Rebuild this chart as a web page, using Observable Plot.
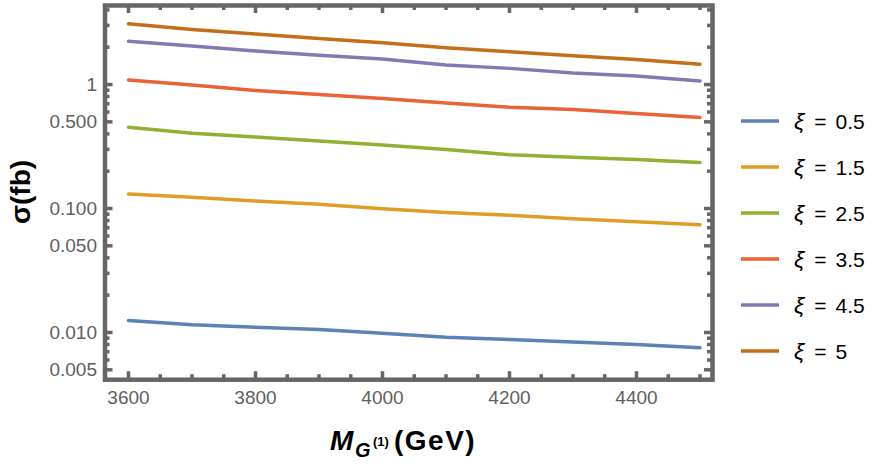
<!DOCTYPE html>
<html>
<head>
<meta charset="utf-8">
<script src="https://cdn.jsdelivr.net/npm/d3@7"></script>
<script src="https://cdn.jsdelivr.net/npm/@observablehq/plot@0.6"></script>
<style>
  html, body { margin: 0; padding: 0; background: #fff; }
  #chart { width: 886px; height: 474px; }
</style>
</head>
<body>
<div id="chart"></div>
<script>
// ---- data ----
const mass = [3600, 3700, 3800, 3900, 4000, 4100, 4200, 4300, 4400, 4500];
const xiValues = ["0.5", "1.5", "2.5", "3.5", "4.5", "5"];
const xiLabels = ["ξ = 0.5", "ξ = 1.5", "ξ = 2.5", "ξ = 3.5", "ξ = 4.5", "ξ = 5"];
const sigmaXi05 = [0.0125, 0.01153, 0.01104, 0.01057, 0.00987, 0.00917, 0.00879, 0.00836, 0.0080, 0.00753];
const sigmaXi15 = [0.131, 0.123, 0.115, 0.108, 0.0995, 0.0929, 0.0883, 0.0826, 0.0781, 0.0738];
const sigmaXi25 = [0.453, 0.405, 0.377, 0.350, 0.326, 0.299, 0.271, 0.259, 0.248, 0.235];
const sigmaXi35 = [1.09, 0.99, 0.895, 0.83, 0.771, 0.711, 0.656, 0.629, 0.584, 0.542];
const sigmaXi45 = [2.23, 2.05, 1.86, 1.72, 1.61, 1.44, 1.35, 1.24, 1.17, 1.07];
const sigmaXi5  = [3.09, 2.78, 2.56, 2.35, 2.17, 1.98, 1.84, 1.71, 1.59, 1.46];
const seriesColors = ["#5E81B5", "#E19C24", "#8FB032", "#EB6235", "#8778B3", "#C56E1A"];

const xMajorTicks = [3600, 3800, 4000, 4200, 4400];
const xMinorTicks = [3650, 3700, 3750, 3850, 3900, 3950, 4050, 4100, 4150, 4250, 4300, 4350, 4450, 4500];
const yMajorTicks = [0.005, 0.01, 0.05, 0.1, 0.5, 1];
const yTickLabels = ["0.005", "0.010", "0.050", "0.100", "0.500", "1"];
const yMinorTicks = [0.006, 0.007, 0.008, 0.009, 0.02, 0.03, 0.04, 0.06, 0.07, 0.08, 0.09,
                     0.2, 0.3, 0.4, 0.6, 0.7, 0.8, 0.9, 2, 3, 4];

// ---- build table ----
const allSeries = [sigmaXi05, sigmaXi15, sigmaXi25, sigmaXi35, sigmaXi45, sigmaXi5];
const rows = [];
allSeries.forEach((vals, k) => vals.forEach((v, i) => rows.push({m: mass[i], s: v, xi: xiLabels[k]})));
const yTickRows = yMajorTicks.map((v, i) => ({v, label: yTickLabels[i]}));

// ---- layout ----
const W = 886, H = 474;
const mL = 104.5, mR = 174, mT = 5, mB = 94.8;
const plotW = W - mL - mR, plotH = H - mT - mB;
const frameColor = "#666";
const labelColor = "#606060";
const fontStack = "'Liberation Sans', Arial, sans-serif";
const majorLen = 8, minorLen = 5;
const tickStyle = {stroke: frameColor, strokeWidth: 3.5};

const chart = Plot.plot({
  width: W, height: H,
  marginLeft: mL, marginRight: mR, marginTop: mT, marginBottom: mB,
  style: {fontFamily: fontStack, background: "#fff"},
  x: {domain: [3563, 4519.7], label: null},
  y: {type: "log", domain: [0.00416, 4.34], label: null, axis: null},
  color: {domain: xiLabels, range: seriesColors},
  marks: [
    Plot.lineY(rows, {x: "m", y: "s", stroke: "xi", strokeWidth: 3.5, strokeLinejoin: "round"}),
    Plot.frame({stroke: frameColor, strokeWidth: 4.5}),
    // inward ticks on all four sides
    Plot.tickX(xMajorTicks, {x: d => d, ...tickStyle, insetTop: plotH - majorLen}),
    Plot.tickX(xMinorTicks, {x: d => d, ...tickStyle, insetTop: plotH - minorLen}),
    Plot.tickX(xMajorTicks, {x: d => d, ...tickStyle, insetBottom: plotH - majorLen}),
    Plot.tickX(xMinorTicks, {x: d => d, ...tickStyle, insetBottom: plotH - minorLen}),
    Plot.tickY(yMajorTicks, {y: d => d, ...tickStyle, insetRight: plotW - majorLen}),
    Plot.tickY(yMinorTicks, {y: d => d, ...tickStyle, insetRight: plotW - minorLen}),
    Plot.tickY(yMajorTicks, {y: d => d, ...tickStyle, insetLeft: plotW - majorLen}),
    Plot.tickY(yMinorTicks, {y: d => d, ...tickStyle, insetLeft: plotW - minorLen}),
    Plot.axisX(xMajorTicks, {tickSize: 0, tickPadding: 11, fontSize: 19, color: labelColor,
      tickFormat: d => String(d), label: null}),
    Plot.text(yTickRows, {y: "v", text: "label", frameAnchor: "left", dx: -8, textAnchor: "end",
      fontSize: 19, fill: labelColor})
  ]
});
document.getElementById("chart").appendChild(chart);

// ---- axis titles and legend ----
const svgSel = d3.select(chart);

svgSel.append("text")
  .attr("transform", "translate(30,192) rotate(-90)")
  .attr("text-anchor", "middle")
  .attr("font-family", fontStack).attr("font-weight", "bold").attr("font-size", 28)
  .attr("fill", "#000")
  .text("σ(fb)");

const xBase = 450;
const xl = svgSel.append("g").attr("font-family", fontStack).attr("font-weight", "bold")
  .attr("fill", "#000").attr("text-anchor", "start");
xl.append("text").attr("x", 330).attr("y", xBase).attr("font-size", 28).attr("font-style", "italic").text("M");
xl.append("text").attr("x", 355).attr("y", xBase + 7).attr("font-size", 20).attr("font-style", "italic").text("G");
xl.append("text").attr("x", 373).attr("y", xBase - 4).attr("font-size", 13).text("(1)");
xl.append("text").attr("x", 394).attr("y", xBase).attr("font-size", 28).attr("letter-spacing", "1.5px").text("(GeV)");

const lg = svgSel.append("g").attr("font-family", fontStack).attr("font-size", 21)
  .attr("fill", "#000").attr("text-anchor", "start");
xiLabels.forEach((lab, i) => {
  const cy = 121 + 46 * i;
  lg.append("line").attr("x1", 741).attr("x2", 779).attr("y1", cy).attr("y2", cy)
    .attr("stroke", seriesColors[i]).attr("stroke-width", 3.5);
  const t = lg.append("text").attr("x", 794).attr("y", cy + 7.5);
  t.append("tspan").attr("font-style", "italic").attr("font-size", 23).text(lab.split(" ")[0]);
  t.append("tspan").attr("dx", 10).text("=");
  t.append("tspan").attr("dx", 9).text(xiValues[i]);
});
</script>
</body>
</html>
